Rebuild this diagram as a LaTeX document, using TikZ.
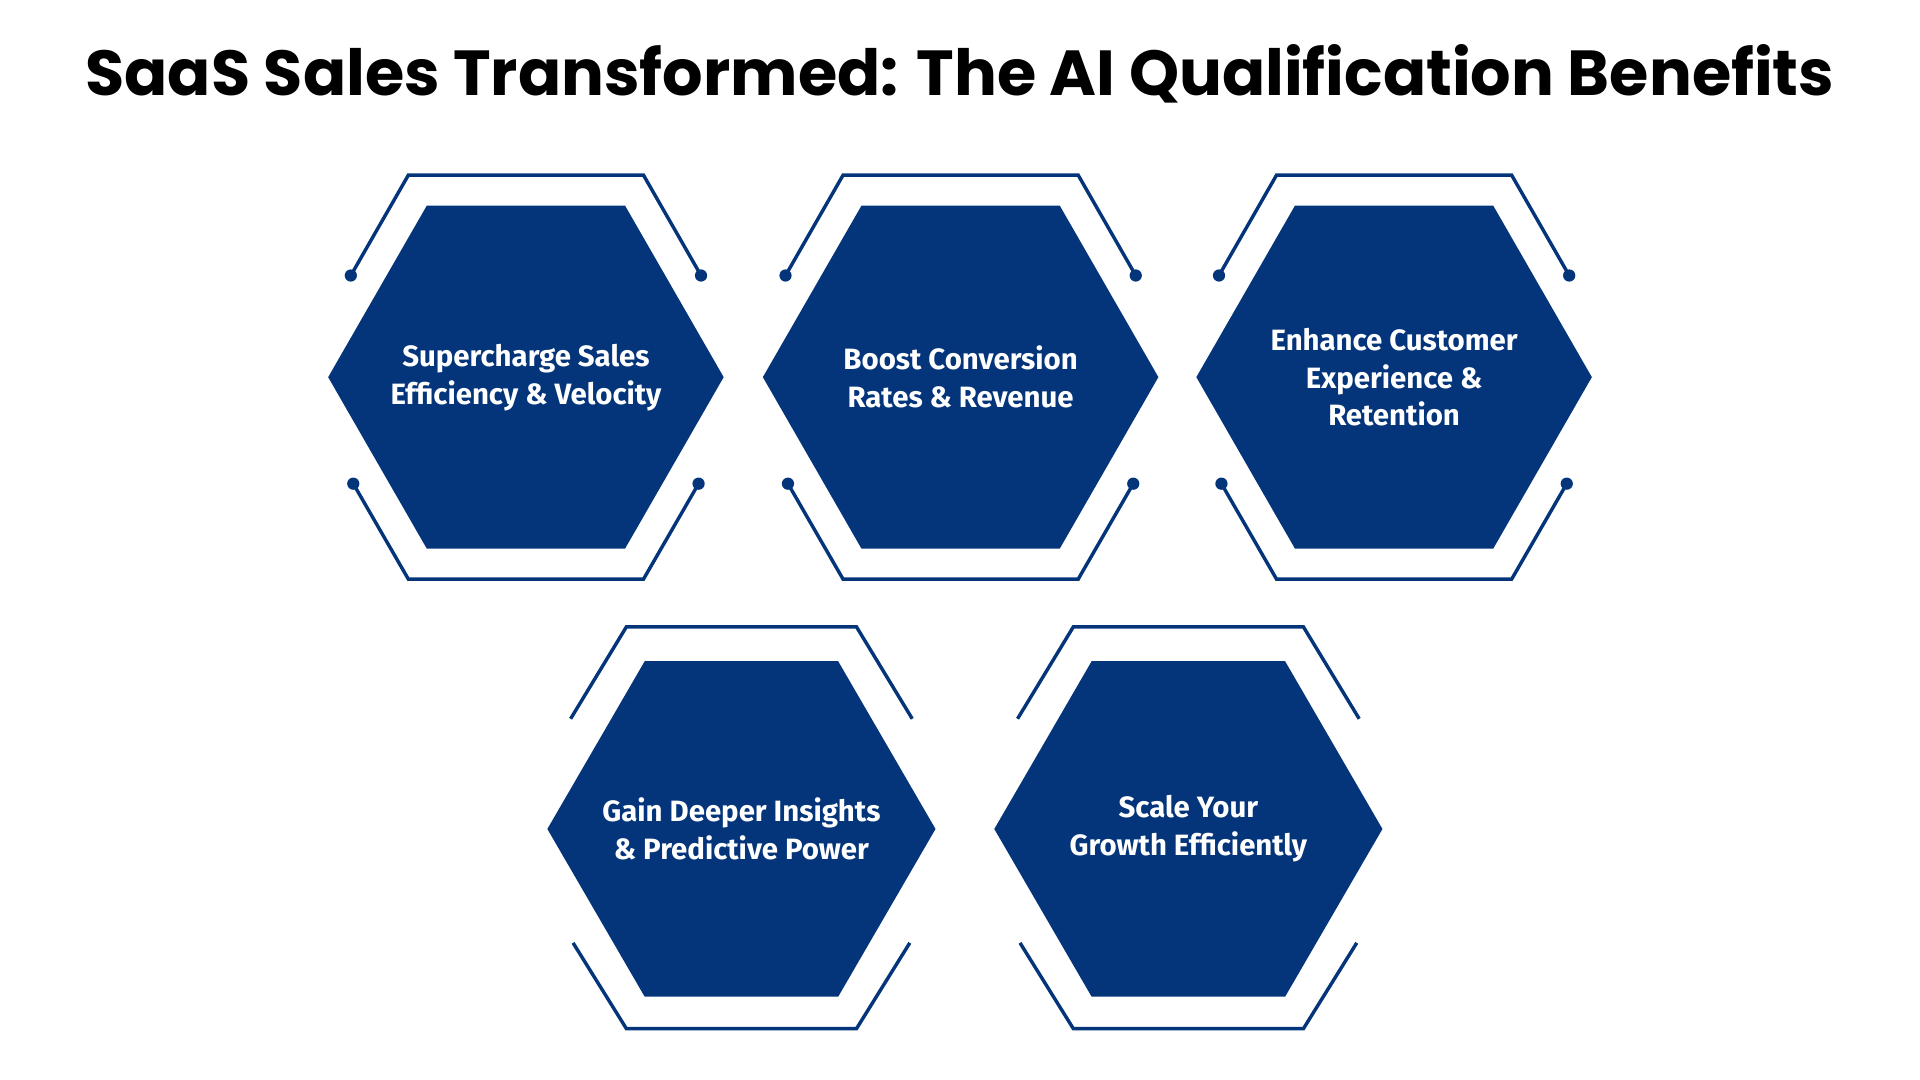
\documentclass[tikz,border=0pt]{standalone}
\usepackage{fontspec}
\setmainfont{Fira Sans}
\newfontfamily\titlefont{Poppins}
\definecolor{navy}{HTML}{04357A}
\begin{document}
\begin{tikzpicture}[x=0.5pt,y=-0.5pt,
  hexfill/.style={fill=navy},
  frame/.style={draw=navy,line width=1.4pt},
  dotc/.style={circle,fill=navy,inner sep=0pt,minimum size=5pt},
  lbl/.style={text=white,align=center,font=\fontsize{12}{15.5}\selectfont\bfseries}]
\useasboundingbox[fill=white] (0,0) rectangle (1568,882);
\node[font=\titlefont\fontsize{26}{30}\selectfont\bfseries] (title) at (784,60) {SaaS Sales Transformed: The AI Qualification Benefits};
% row 1
\foreach \cx/\n/\t in {429.5/a/{Supercharge Sales\\Efficiency \& Velocity},784.5/b/{Boost Conversion\\Rates \& Revenue},1138.5/c/{Enhance Customer\\Experience \&\\Retention}}{
  \begin{scope}[shift={(\cx,308)}]
  \fill[hexfill] (-161.5,0) -- (-81,-140) -- (81,-140) -- (161.5,0) -- (81,140) -- (-81,140) -- cycle;
  \node[dotc] (\n tl) at (-143,-83) {};
  \node[dotc] (\n tr) at (143,-83) {};
  \node[dotc] (\n bl) at (-141,87) {};
  \node[dotc] (\n br) at (141,87) {};
  \draw[frame] (\n tl.center) -- (-96,-165) -- (96,-165) -- (\n tr.center);
  \draw[frame] (\n bl.center) -- (-96,165) -- (96,165) -- (\n br.center);
  \node[lbl] (\n) at (0,0) {\t};
  \end{scope}}
% row 2
\foreach \cx/\n/\t in {605.5/d/{Gain Deeper Insights\\\& Predictive Power},970.5/e/{Scale Your\\Growth Efficiently}}{
  \begin{scope}[shift={(\cx,677)}]
  \fill[hexfill] (-158.5,0) -- (-79,-137) -- (79,-137) -- (158.5,0) -- (79,137) -- (-79,137) -- cycle;
  \coordinate (\n tl) at (-139.5,-90);
  \coordinate (\n tr) at (139.5,-90);
  \coordinate (\n bl) at (-137.5,93);
  \coordinate (\n br) at (137.5,93);
  \draw[frame] (\n tl) -- (-94,-165) -- (94,-165) -- (\n tr);
  \draw[frame] (\n bl) -- (-94,163) -- (94,163) -- (\n br);
  \node[lbl] (\n) at (0,0) {\t};
  \end{scope}}
\end{tikzpicture}
\end{document}
